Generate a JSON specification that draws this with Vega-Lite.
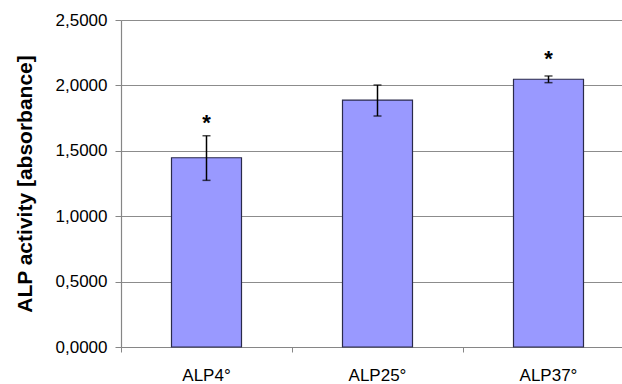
{
  "$schema": "https://vega.github.io/schema/vega-lite/v6.json",
  "autosize": {"type": "none"},
  "padding": {"left": 121, "top": 20, "right": 0, "bottom": 37},
  "width": 501,
  "height": 327,
  "background": "white",
  "config": {
    "view": {"stroke": null},
    "font": "Liberation Sans",
    "axis": {"labelFont": "Liberation Sans", "titleFont": "Liberation Sans"}
  },
  "data": {
    "values": [
      {"group": "ALP4°", "mean": 1.447, "lo": 1.274, "hi": 1.615, "star": 1.758, "sig": "*"},
      {"group": "ALP25°", "mean": 1.888, "lo": 1.766, "hi": 2.003, "star": null, "sig": ""},
      {"group": "ALP37°", "mean": 2.047, "lo": 2.021, "hi": 2.072, "star": 2.244, "sig": "*"}
    ]
  },
  "encoding": {
    "x": {
      "field": "group",
      "type": "nominal",
      "sort": null,
      "scale": {"range": [0, 513], "paddingInner": 0, "paddingOuter": 0},
      "axis": {
        "title": null,
        "labelAngle": 0,
        "bandPosition": 0,
        "labelFontSize": 17,
        "labelColor": "#000000",
        "labelPadding": 15,
        "tickSize": 5,
        "tickColor": "#868686",
        "domainColor": "#868686",
        "domainWidth": 1.2,
        "grid": false
      }
    }
  },
  "layer": [
    {
      "mark": {"type": "bar", "size": 70, "fill": "#9999FF", "stroke": "#2a2a4a", "strokeWidth": 1.2},
      "encoding": {
        "y": {
          "field": "mean",
          "type": "quantitative",
          "scale": {"domain": [0, 2.5], "nice": false},
          "axis": {
            "title": "ALP activity [absorbance]",
            "titleFontSize": 21,
            "titleFontWeight": "bold",
            "titleColor": "#000000",
            "titlePadding": 20,
            "values": [0, 0.5, 1, 1.5, 2, 2.5],
            "labelExpr": "replace(format(datum.value, '.4f'), '.', ',')",
            "labelFontSize": 17,
            "labelColor": "#000000",
            "labelPadding": 8,
            "tickSize": 6,
            "tickColor": "#868686",
            "domainColor": "#868686",
            "domainWidth": 1.2,
            "grid": true,
            "gridColor": "#8c8c8c",
            "gridWidth": 1.2
          }
        }
      }
    },
    {
      "mark": {"type": "rule", "color": "#000000", "strokeWidth": 1.5},
      "encoding": {
        "y": {"field": "lo", "type": "quantitative"},
        "y2": {"field": "hi"}
      }
    },
    {
      "mark": {"type": "tick", "orient": "horizontal", "size": 8, "thickness": 1.5, "color": "#000000"},
      "encoding": {"y": {"field": "lo", "type": "quantitative"}}
    },
    {
      "mark": {"type": "tick", "orient": "horizontal", "size": 8, "thickness": 1.5, "color": "#000000"},
      "encoding": {"y": {"field": "hi", "type": "quantitative"}}
    },
    {
      "transform": [{"filter": "datum.star != null"}],
      "mark": {"type": "text", "fontSize": 22, "fontWeight": "bold", "baseline": "alphabetic", "dy": 12.6, "color": "#000000"},
      "encoding": {
        "y": {"field": "star", "type": "quantitative"},
        "text": {"field": "sig"}
      }
    }
  ]
}
